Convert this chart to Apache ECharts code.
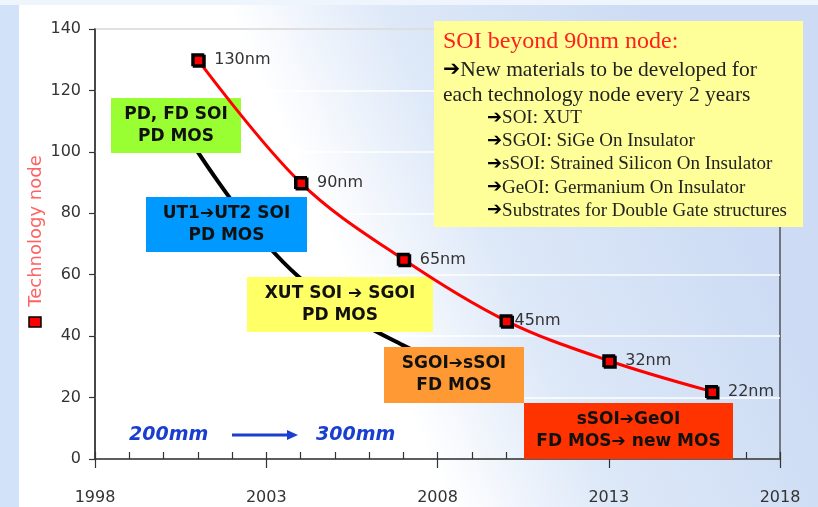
<!DOCTYPE html>
<html>
<head>
<meta charset="utf-8">
<script src="https://cdn.jsdelivr.net/npm/echarts@6/dist/echarts.min.js"></script>
<style>
  html, body { margin: 0; padding: 0; background: #d2e2f8; }
  #chart { width: 818px; height: 507px; }
</style>
</head>
<body>
<div id="chart"></div>
<script>
// ---- data ----
const nodeYears = [2001, 2004, 2007, 2010, 2013, 2016];
const nodeSizes = [130, 90, 65, 45, 32, 22];
const nodeLabels = ['130nm', '90nm', '65nm', '45nm', '32nm', '22nm'];
const soiYears = [2001, 2003, 2005, 2007, 2009];
const soiValues = [100, 70, 50, 37, 27];
const xTickYears = [1998, 2003, 2008, 2013, 2018];
const yTickValues = [0, 20, 40, 60, 80, 100, 120, 140];
const legendName = 'Technology node';
const stageLabels = [
  'PD, FD SOI\nPD MOS',
  'UT1\u2794UT2 SOI\nPD MOS',
  'XUT SOI \u2794 SGOI\nPD MOS',
  'SGOI\u2794sSOI\nFD MOS',
  'sSOI\u2794GeOI\nFD MOS\u2794 new MOS'
];
const waferLabels = ['200mm', '300mm'];
const infoTitle = 'SOI beyond 90nm node:';
const infoLines = ['New materials to be developed for', 'each technology node every 2 years'];
const infoLineArrow = [true, false];
const infoSubLines = [
  'SOI: XUT',
  'SGOI: SiGe On Insulator',
  'sSOI: Strained Silicon On Insulator',
  'GeOI: Germanium On Insulator',
  'Substrates for Double Gate structures'
];

// ---- styles / layout (not data) ----
const stageBoxes = [
  { x: 111, y: 98, w: 130, h: 55, color: '#99ff33' },
  { x: 146, y: 197, w: 161, h: 55, color: '#0099ff' },
  { x: 247, y: 277, w: 186, h: 55, color: '#ffff66' },
  { x: 384, y: 347, w: 140, h: 56, color: '#ff9933' },
  { x: 524, y: 403, w: 209, h: 56, color: '#ff3300' }
];

const chart = echarts.init(document.getElementById('chart'));

const redData = nodeYears.map((yr, i) => ({
  value: [yr, nodeSizes[i]],
  label: { distance: i === 3 ? 2 : 10 }
}));
const blackData = soiYears.map((yr, i) => [yr, soiValues[i]]);

const ARROW = '\u2794';
const graphics = [];
// background
graphics.push({
  type: 'rect', z: -10, silent: true,
  shape: { x: 0, y: 0, width: 818, height: 5 },
  style: { fill: '#eef5fd' }
});
graphics.push({
  type: 'rect', z: -10, silent: true,
  shape: { x: 19, y: 5, width: 799, height: 502 },
  style: {
    fill: new echarts.graphic.LinearGradient(0.15, 0.75, 0.85, 0.25, [
      { offset: 0, color: '#ffffff' },
      { offset: 0.38, color: '#ffffff' },
      { offset: 0.62, color: '#dde8f8' },
      { offset: 1, color: '#cddcf4' }
    ])
  }
});
// stage boxes
stageBoxes.forEach((b, i) => {
  graphics.push({
    type: 'rect', z: 3, silent: true,
    shape: { x: b.x, y: b.y, width: b.w, height: b.h },
    style: { fill: b.color }
  });
  graphics.push({
    type: 'text', z: 4, silent: true,
    x: b.x + b.w / 2, y: b.y + b.h / 2,
    style: {
      text: stageLabels[i], fill: '#111',
      font: 'bold 17px "DejaVu Sans"', lineHeight: 22,
      textAlign: 'center', textVerticalAlign: 'middle', align: 'center', verticalAlign: 'middle'
    }
  });
});
// wafer labels and arrow
graphics.push({
  type: 'text', z: 4, silent: true, x: 129, y: 435,
  style: { text: waferLabels[0], fill: '#1a3fd0', font: 'italic bold 19px "DejaVu Sans"', verticalAlign: 'middle', textVerticalAlign: 'middle' }
});
graphics.push({
  type: 'text', z: 4, silent: true, x: 316, y: 435,
  style: { text: waferLabels[1], fill: '#1a3fd0', font: 'italic bold 19px "DejaVu Sans"', verticalAlign: 'middle', textVerticalAlign: 'middle' }
});
graphics.push({
  type: 'line', z: 4, silent: true,
  shape: { x1: 232, y1: 435, x2: 290, y2: 435 },
  style: { stroke: '#1a3fd0', lineWidth: 3 }
});
graphics.push({
  type: 'polygon', z: 4, silent: true,
  shape: { points: [[287, 430], [298, 435], [287, 440]] },
  style: { fill: '#1a3fd0' }
});
// legend
graphics.push({
  type: 'rect', z: 4, silent: true,
  shape: { x: 29, y: 317, width: 12, height: 10 },
  style: { fill: '#ff0000', stroke: '#000', lineWidth: 1.5 }
});
graphics.push({
  type: 'text', z: 4, silent: true, x: 36, y: 231, rotation: Math.PI / 2,
  style: { text: legendName, fill: '#ff6262', font: '18px "DejaVu Sans"', align: 'center', verticalAlign: 'middle', textAlign: 'center', textVerticalAlign: 'middle' }
});
// info box
graphics.push({
  type: 'rect', z: 10, silent: true,
  shape: { x: 434, y: 21, width: 369, height: 206 },
  style: { fill: '#ffff99' }
});
graphics.push({
  type: 'text', z: 11, silent: true, x: 443, y: 42,
  style: { text: infoTitle, fill: '#ff2020', font: '24px "Liberation Serif"', verticalAlign: 'middle', textVerticalAlign: 'middle' }
});
const arrowRich = (size) => ({
  a: { fontFamily: 'DejaVu Sans', fontWeight: 'bold', fontSize: size - 1, fill: '#000', color: '#000' },
  t: { fontFamily: 'Liberation Serif', fontSize: size, fill: '#222', color: '#222' }
});
infoLines.forEach((t, i) => {
  graphics.push({
    type: 'text', z: 11, silent: true, x: 443, y: 70 + i * 25,
    style: {
      text: (infoLineArrow[i] ? '{a|' + ARROW + '}' : '') + '{t|' + t + '}',
      rich: arrowRich(21.5), verticalAlign: 'middle', textVerticalAlign: 'middle'
    }
  });
});
infoSubLines.forEach((t, i) => {
  graphics.push({
    type: 'text', z: 11, silent: true, x: 487, y: 118 + i * 23.2,
    style: {
      text: '{a|' + ARROW + '}{t|' + t + '}',
      rich: arrowRich(19), verticalAlign: 'middle', textVerticalAlign: 'middle'
    }
  });
});

const xMin = xTickYears[0], xMax = xTickYears[xTickYears.length - 1];
const option = {
  animation: false,
  grid: { left: 95, right: 38, top: 29, bottom: 48, show: true, borderColor: '#333', borderWidth: 1.2, backgroundColor: 'transparent' },
  xAxis: [{
    type: 'value', min: xMin, max: xMax, interval: 1,
    axisLine: { lineStyle: { color: '#333', width: 1.5 } },
    axisTick: { show: true, inside: true, length: 7, lineStyle: { color: '#333', width: 1.2 } },
    axisLabel: { show: false },
    splitLine: { show: false }
  }, {
    type: 'value', position: 'bottom', min: xMin, max: xMax, interval: 5,
    axisLine: { show: false },
    axisTick: { show: true, length: 9, lineStyle: { color: '#333', width: 1.2 } },
    axisLabel: { show: true, margin: 31, color: '#333', fontFamily: 'DejaVu Sans', fontSize: 16,
      formatter: v => String(v) },
    splitLine: { show: false }
  }],
  yAxis: {
    type: 'value', min: yTickValues[0], max: yTickValues[yTickValues.length - 1], interval: 20,
    axisLine: { show: true, lineStyle: { color: '#333', width: 1.5 } },
    axisTick: { show: true, length: 6, lineStyle: { color: '#333', width: 1.2 } },
    axisLabel: { margin: 14, color: '#333', fontFamily: 'DejaVu Sans', fontSize: 16 },
    splitLine: { show: true, lineStyle: { color: 'rgba(255,255,255,0.95)', width: 1.5 } }
  },
  series: [{
    type: 'line', name: 'SOI', z: 1, data: blackData, smooth: 0.4, showSymbol: false,
    lineStyle: { color: '#000', width: 4 }, silent: true
  }, {
    type: 'line', name: legendName, z: 5, data: redData, smooth: 0.35,
    symbol: 'rect', symbolSize: 11,
    itemStyle: { color: '#ff0000', borderColor: '#000', borderWidth: 2, shadowColor: '#000', shadowOffsetX: 1.5, shadowOffsetY: 1.5, shadowBlur: 0 },
    lineStyle: { color: '#ff0000', width: 3 },
    label: { show: true, position: 'right', color: '#333', fontFamily: 'DejaVu Sans', fontSize: 16,
      formatter: p => nodeLabels[p.dataIndex] },
    silent: true
  }],
  graphic: graphics
};
chart.setOption(option);
</script>
</body>
</html>
